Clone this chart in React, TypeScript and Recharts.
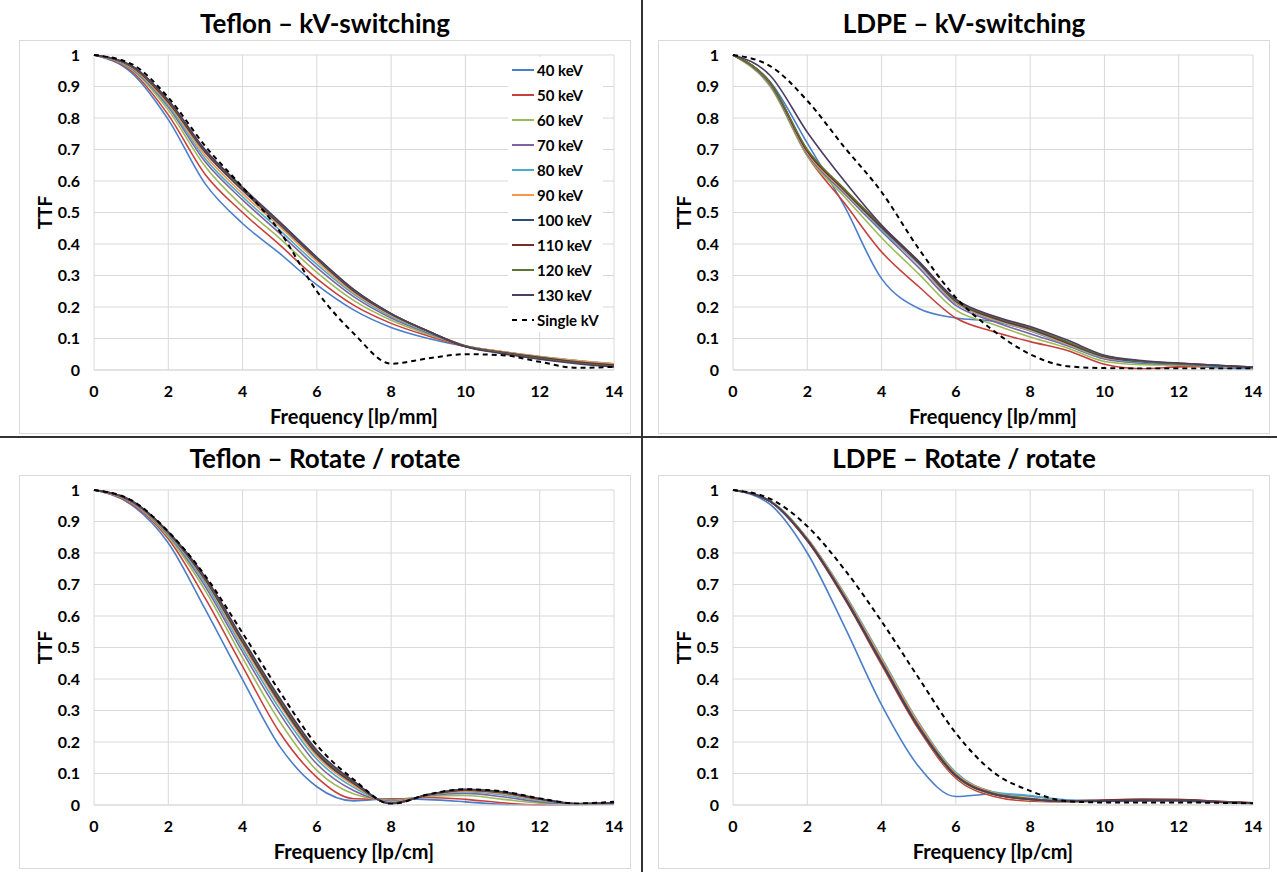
import React from 'react';
import { LineChart, Line, XAxis, YAxis, CartesianGrid, Legend } from 'recharts';

const FREQ = [0, 1, 2, 3, 4, 5, 6, 7, 8, 9, 10, 11, 12, 13, 14];
const SERIES = ['40 keV', '50 keV', '60 keV', '70 keV', '80 keV', '90 keV', '100 keV', '110 keV', '120 keV', '130 keV', 'Single kV'];
const COLORS = ['#4A7EC9', '#C8403C', '#9BBB59', '#8064A2', '#4BACC6', '#F79646', '#2C4D75', '#772C2A', '#5F7530', '#4D3B62', '#000000'];
const X_TICKS = [0, 2, 4, 6, 8, 10, 12, 14];
const Y_TICKS = [0, 0.1, 0.2, 0.3, 0.4, 0.5, 0.6, 0.7, 0.8, 0.9, 1];

// Teflon, kV-switching (rows follow SERIES)
const TEFLON_KV = [
  [1, 0.945, 0.795, 0.59, 0.465, 0.37, 0.27, 0.19, 0.135, 0.1, 0.075, 0.056, 0.04, 0.027, 0.017],
  [1, 0.95, 0.81, 0.62, 0.5, 0.397, 0.29, 0.205, 0.148, 0.108, 0.075, 0.057, 0.041, 0.028, 0.018],
  [1, 0.955, 0.825, 0.645, 0.52, 0.418, 0.31, 0.22, 0.158, 0.113, 0.076, 0.058, 0.042, 0.029, 0.019],
  [1, 0.958, 0.835, 0.66, 0.54, 0.434, 0.325, 0.232, 0.165, 0.117, 0.076, 0.058, 0.042, 0.029, 0.019],
  [1, 0.96, 0.84, 0.67, 0.55, 0.444, 0.335, 0.24, 0.17, 0.12, 0.077, 0.058, 0.043, 0.03, 0.02],
  [1, 0.962, 0.845, 0.68, 0.56, 0.455, 0.345, 0.245, 0.174, 0.122, 0.077, 0.058, 0.043, 0.03, 0.02],
  [1, 0.964, 0.85, 0.69, 0.57, 0.462, 0.352, 0.25, 0.177, 0.123, 0.076, 0.056, 0.04, 0.026, 0.016],
  [1, 0.965, 0.852, 0.693, 0.574, 0.466, 0.355, 0.252, 0.178, 0.123, 0.075, 0.055, 0.038, 0.024, 0.014],
  [1, 0.966, 0.855, 0.696, 0.577, 0.468, 0.357, 0.254, 0.179, 0.123, 0.075, 0.054, 0.036, 0.022, 0.012],
  [1, 0.967, 0.857, 0.698, 0.58, 0.47, 0.358, 0.255, 0.179, 0.123, 0.074, 0.052, 0.034, 0.02, 0.01],
  [1, 0.972, 0.865, 0.71, 0.58, 0.44, 0.25, 0.115, 0.02, 0.037, 0.05, 0.047, 0.026, 0.007, 0.01],
];

// LDPE, kV-switching
const LDPE_KV = [
  [1, 0.915, 0.72, 0.52, 0.29, 0.195, 0.165, 0.155, 0.125, 0.08, 0.037, 0.022, 0.015, 0.007, 0.003],
  [1, 0.905, 0.68, 0.53, 0.375, 0.265, 0.165, 0.122, 0.09, 0.062, 0.018, 0.004, 0.01, 0.012, 0.008],
  [1, 0.9, 0.68, 0.55, 0.42, 0.305, 0.19, 0.145, 0.105, 0.07, 0.027, 0.017, 0.015, 0.012, 0.008],
  [1, 0.905, 0.685, 0.56, 0.44, 0.325, 0.205, 0.155, 0.115, 0.077, 0.035, 0.022, 0.018, 0.013, 0.008],
  [1, 0.91, 0.69, 0.565, 0.445, 0.335, 0.212, 0.16, 0.125, 0.08, 0.038, 0.025, 0.02, 0.014, 0.008],
  [1, 0.91, 0.69, 0.567, 0.45, 0.338, 0.215, 0.162, 0.127, 0.082, 0.04, 0.028, 0.02, 0.015, 0.009],
  [1, 0.912, 0.695, 0.57, 0.452, 0.34, 0.218, 0.165, 0.13, 0.085, 0.042, 0.027, 0.02, 0.014, 0.008],
  [1, 0.912, 0.695, 0.572, 0.455, 0.342, 0.22, 0.168, 0.133, 0.088, 0.044, 0.028, 0.021, 0.015, 0.009],
  [1, 0.913, 0.7, 0.575, 0.458, 0.345, 0.222, 0.17, 0.135, 0.09, 0.045, 0.028, 0.02, 0.014, 0.008],
  [1, 0.935, 0.755, 0.6, 0.46, 0.345, 0.225, 0.172, 0.138, 0.095, 0.047, 0.03, 0.022, 0.015, 0.009],
  [1, 0.965, 0.855, 0.707, 0.565, 0.385, 0.23, 0.126, 0.05, 0.012, 0.006, 0.005, 0.005, 0.005, 0.005],
];

// Teflon, rotate / rotate
const TEFLON_ROT = [
  [1, 0.954, 0.832, 0.62, 0.398, 0.186, 0.058, 0.013, 0.02, 0.017, 0.01, 0.002, 0, 0.001, 0.003],
  [1, 0.957, 0.845, 0.655, 0.44, 0.23, 0.088, 0.02, 0.018, 0.024, 0.018, 0.007, 0.001, 0.002, 0.004],
  [1, 0.96, 0.852, 0.68, 0.467, 0.265, 0.11, 0.035, 0.015, 0.028, 0.03, 0.018, 0.006, 0.002, 0.005],
  [1, 0.962, 0.857, 0.693, 0.486, 0.29, 0.13, 0.045, 0.012, 0.03, 0.037, 0.026, 0.01, 0.003, 0.005],
  [1, 0.963, 0.86, 0.703, 0.498, 0.305, 0.145, 0.055, 0.01, 0.031, 0.042, 0.032, 0.014, 0.004, 0.006],
  [1, 0.964, 0.862, 0.71, 0.509, 0.318, 0.155, 0.062, 0.008, 0.032, 0.045, 0.036, 0.016, 0.004, 0.006],
  [1, 0.965, 0.864, 0.714, 0.516, 0.325, 0.162, 0.067, 0.006, 0.032, 0.047, 0.039, 0.018, 0.004, 0.006],
  [1, 0.966, 0.865, 0.717, 0.52, 0.33, 0.166, 0.07, 0.005, 0.033, 0.048, 0.04, 0.019, 0.004, 0.006],
  [1, 0.967, 0.866, 0.72, 0.524, 0.335, 0.17, 0.073, 0.004, 0.033, 0.049, 0.041, 0.02, 0.004, 0.006],
  [1, 0.967, 0.867, 0.722, 0.528, 0.34, 0.174, 0.075, 0.004, 0.033, 0.05, 0.042, 0.02, 0.004, 0.006],
  [1, 0.968, 0.868, 0.727, 0.546, 0.36, 0.19, 0.08, 0.003, 0.034, 0.05, 0.043, 0.021, 0.005, 0.01],
];

// LDPE, rotate / rotate
const LDPE_ROT = [
  [1, 0.954, 0.8, 0.567, 0.318, 0.122, 0.027, 0.035, 0.028, 0.016, 0.014, 0.015, 0.014, 0.01, 0.005],
  [1, 0.963, 0.838, 0.655, 0.445, 0.24, 0.085, 0.028, 0.012, 0.01, 0.015, 0.018, 0.017, 0.012, 0.007],
  [1, 0.964, 0.84, 0.66, 0.45, 0.245, 0.09, 0.033, 0.016, 0.01, 0.011, 0.012, 0.012, 0.009, 0.005],
  [1, 0.965, 0.845, 0.668, 0.462, 0.258, 0.1, 0.04, 0.02, 0.011, 0.012, 0.014, 0.014, 0.01, 0.006],
  [1, 0.966, 0.847, 0.672, 0.468, 0.262, 0.104, 0.042, 0.03, 0.014, 0.012, 0.013, 0.013, 0.009, 0.004],
  [1, 0.965, 0.846, 0.668, 0.463, 0.258, 0.1, 0.04, 0.022, 0.012, 0.012, 0.013, 0.013, 0.009, 0.005],
  [1, 0.964, 0.843, 0.662, 0.455, 0.25, 0.095, 0.037, 0.02, 0.012, 0.012, 0.014, 0.014, 0.01, 0.006],
  [1, 0.963, 0.84, 0.658, 0.45, 0.245, 0.092, 0.035, 0.018, 0.013, 0.016, 0.018, 0.017, 0.012, 0.007],
  [1, 0.964, 0.842, 0.66, 0.452, 0.248, 0.094, 0.036, 0.019, 0.012, 0.013, 0.015, 0.015, 0.011, 0.006],
  [1, 0.964, 0.841, 0.659, 0.451, 0.246, 0.093, 0.035, 0.018, 0.012, 0.013, 0.015, 0.015, 0.01, 0.006],
  [1, 0.972, 0.885, 0.748, 0.583, 0.403, 0.228, 0.105, 0.045, 0.012, 0.008, 0.008, 0.008, 0.007, 0.005],
];

const FONT = 'Lato, "Open Sans", sans-serif';
const W = 612;
const H = 394;

function LegendBox() {
  return (
    <div style={{ fontFamily: FONT, fontWeight: 700, fontSize: 15, color: '#000' }}>
      {SERIES.map((s, i) => (
        <div key={s} style={{ height: 25, display: 'flex', alignItems: 'center' }}>
          <svg width={28} height={6} style={{ flex: 'none' }}>
            <line x1={4} x2={26} y1={3} y2={3} stroke={COLORS[i]} strokeWidth={2}
              strokeDasharray={i === 10 ? '5 5' : undefined} />
          </svg>
          <span style={{ marginLeft: 1, whiteSpace: 'nowrap' }}>{s}</span>
        </div>
      ))}
    </div>
  );
}

function Panel({ title, rows, xLabel, left, top, legend }: any) {
  const data = FREQ.map((f, i) => {
    const row: any = { f };
    rows.forEach((vals: number[], s: number) => { row['s' + s] = vals[i]; });
    return row;
  });
  const tick = { fill: '#000', fontSize: 16, fontWeight: 700, fontFamily: FONT };
  return (
    <div style={{ position: 'absolute', left, top, width: W, height: H }}>
      <div style={{ position: 'absolute', left: 0, top: -32, width: W, height: 30, lineHeight: '30px', textAlign: 'center', fontFamily: FONT, fontWeight: 700, fontSize: 26, color: '#000' }}>
        {title}
      </div>
      <div style={{ position: 'absolute', left: 0, top: 0, width: W, height: H, border: '1px solid #d9d9d9', boxSizing: 'border-box' }} />
      <LineChart width={W} height={H} data={data} margin={{ top: 15, right: 17, left: 0, bottom: 0 }}>
        <CartesianGrid stroke="#d9d9d9" strokeWidth={1} />
        <XAxis dataKey="f" type="number" domain={[0, 14]} ticks={X_TICKS} height={64}
          axisLine={{ stroke: '#d9d9d9' }} tickLine={false} tickSize={0} tickMargin={16} tick={tick}
          label={{ value: xLabel, position: 'insideBottom', offset: 10, fill: '#000', fontSize: 20, fontWeight: 700, fontFamily: FONT }} />
        <YAxis type="number" domain={[0, 1]} ticks={Y_TICKS} width={75}
          axisLine={false} tickLine={false} tickSize={0} tickMargin={14} tick={tick}
          tickFormatter={(v: number) => String(v)}
          label={{
            content: (p: any) => {
              const vb = p.viewBox || {};
              const cx = 25;
              const cy = (vb.y || 15) + (vb.height || 315) / 2;
              return (
                <text x={cx} y={cy} transform={`rotate(-90 ${cx} ${cy})`} textAnchor="middle" dominantBaseline="central"
                  style={{ fontFamily: FONT, fontWeight: 700, fontSize: 19, fill: '#000' }}>TTF</text>
              );
            },
          }} />
        {rows.map((_: number[], i: number) => (
          <Line key={i} type="monotone" dataKey={'s' + i} name={SERIES[i]} stroke={COLORS[i]}
            strokeWidth={i === 10 ? 2 : 1.6} strokeDasharray={i === 10 ? '5 4' : undefined}
            dot={false} activeDot={false} isAnimationActive={false} />
        ))}
        {legend && (
          <Legend layout="vertical" align="center" verticalAlign="middle"
            wrapperStyle={{ left: 489, top: 17, width: 95, height: 275, background: '#fff' }}
            content={() => <LegendBox />} />
        )}
      </LineChart>
    </div>
  );
}

export default function App() {
  return (
    <div style={{ position: 'absolute', left: 0, top: 0, width: 1277, height: 872, background: '#fff', overflow: 'hidden' }}>
      <Panel title="Teflon – kV-switching" rows={TEFLON_KV} xLabel="Frequency [lp/mm]" left={19} top={40} legend />
      <Panel title="LDPE – kV-switching" rows={LDPE_KV} xLabel="Frequency [lp/mm]" left={658} top={40} />
      <Panel title="Teflon – Rotate / rotate" rows={TEFLON_ROT} xLabel="Frequency [lp/cm]" left={19} top={475} />
      <Panel title="LDPE – Rotate / rotate" rows={LDPE_ROT} xLabel="Frequency [lp/cm]" left={658} top={475} />
      <div style={{ position: 'absolute', left: 641, top: 0, width: 2, height: 872, background: '#333' }} />
      <div style={{ position: 'absolute', left: 0, top: 436, width: 1277, height: 2, background: '#333' }} />
    </div>
  );
}
